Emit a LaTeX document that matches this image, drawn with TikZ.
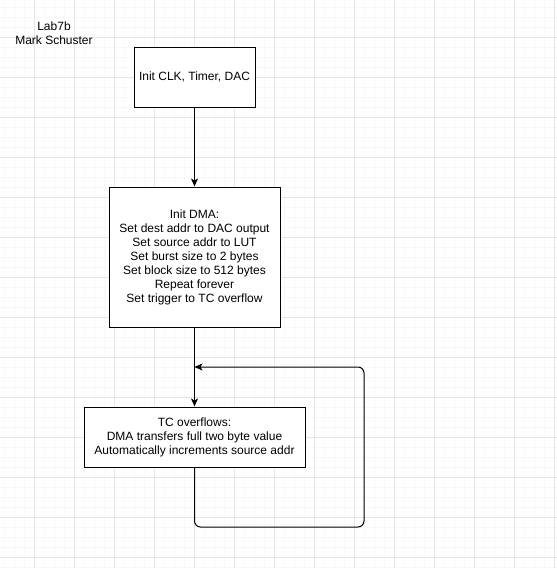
\documentclass[tikz,border=0pt]{standalone}
\usepackage{fontspec}
\setmainfont{Liberation Sans}
\usetikzlibrary{arrows.meta}
\definecolor{gridmajor}{HTML}{E6E6E6}
\definecolor{gridminor}{HTML}{F8F8F8}
\tikzset{
  stepbox/.style={draw=black, line width=1pt, fill=white, align=center,
    inner sep=0pt, font=\fontsize{12}{14}\selectfont},
  flow/.style={draw=black, line width=1pt, -{Stealth[length=8pt,width=7pt,inset=2pt]}},
  label/.style={align=center, inner sep=0pt, font=\fontsize{12}{14}\selectfont}
}
\begin{document}
\begin{tikzpicture}[x=1pt,y=-1pt]
\useasboundingbox (0,0) rectangle (557,568);
\fill[white] (0,0) rectangle (557,568);
% minor grid
\foreach \x in {4,14,...,554} \draw[gridminor, line width=1pt] (\x,0) -- (\x,568);
\foreach \y in {7,17,...,567} \draw[gridminor, line width=1pt] (0,\y) -- (557,\y);
% major grid
\foreach \x in {34,74,...,554} \draw[gridmajor, line width=1pt] (\x,0) -- (\x,568);
\foreach \y in {37,77,...,557} \draw[gridmajor, line width=1pt] (0,\y) -- (557,\y);

\node[label] (title) at (54,33) {Lab7b\\Mark Schuster};

\node[stepbox, minimum width=121pt, minimum height=60pt] (init) at (194.5,77) {Init CLK, Timer, DAC};
\node[stepbox, minimum width=171pt, minimum height=140pt] (dma) at (194.5,257)
  {Init DMA:\\Set dest addr to DAC output\\Set source addr to LUT\\Set burst size to 2 bytes\\Set block size to 512 bytes\\Repeat forever\\Set trigger to TC overflow};
\node[stepbox, minimum width=221pt, minimum height=60pt] (tc) at (194.5,437)
  {TC overflows:\\DMA transfers full two byte value\\Automatically increments source addr};

\coordinate (br) at (364,527);
\coordinate (tr) at (364,367);
\coordinate (back) at (194.5,367);

\draw[flow] (init) -- (dma);
\draw[flow] (dma) -- (tc);
\draw[flow, rounded corners=6pt] (tc.south) |- (br) -- (tr) -- (back);
\end{tikzpicture}
\end{document}
